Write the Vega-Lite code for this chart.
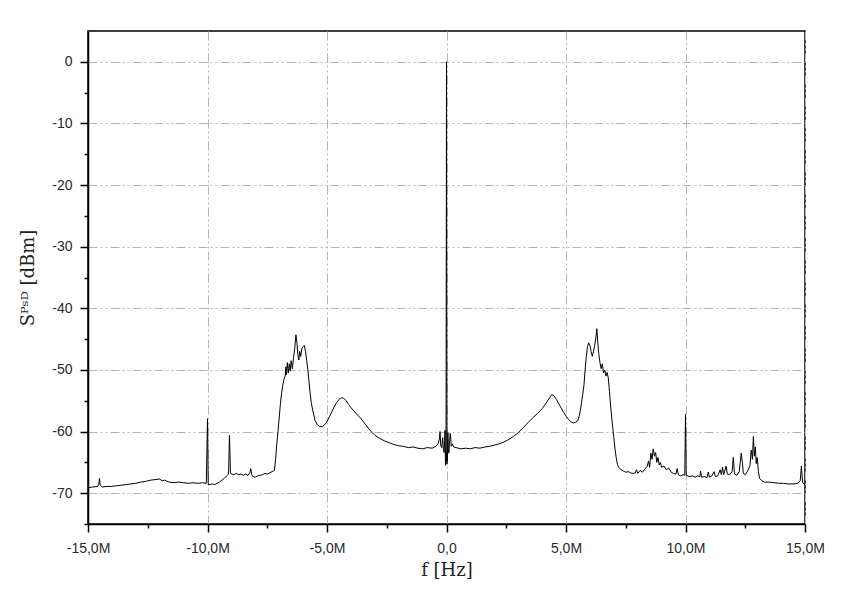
{
  "$schema": "https://vega.github.io/schema/vega-lite/v6.json",
  "width": 717,
  "height": 493,
  "autosize": {"type": "none"},
  "padding": {"left": 88, "top": 31, "right": 38, "bottom": 87},
  "background": "white",
  "config": {
    "view": {"stroke": "black", "strokeWidth": 1.5},
    "axis": {
      "domainColor": "black",
      "domainWidth": 1.5,
      "tickColor": "black",
      "tickWidth": 1.5,
      "labelFont": "Liberation Sans",
      "labelFontSize": 14,
      "labelColor": "#2a2a2a",
      "titleFont": "DejaVu Serif",
      "titleFontSize": 18,
      "titleFontWeight": "normal",
      "titleColor": "#222222",
      "gridColor": "#b4b4b4",
      "gridWidth": 1,
      "gridDash": [9, 3, 2, 3, 2, 3]
    }
  },
  "data": {
    "values": [
      {"f": -15.0, "v": -69.1}, {"f": -14.8, "v": -69.0}, {"f": -14.6, "v": -68.9}, {"f": -14.55, "v": -68.6},
      {"f": -14.52, "v": -67.6}, {"f": -14.49, "v": -68.7}, {"f": -14.4, "v": -69.0}, {"f": -14.2, "v": -68.9},
      {"f": -14.0, "v": -68.9}, {"f": -13.8, "v": -68.8}, {"f": -13.6, "v": -68.7}, {"f": -13.4, "v": -68.6},
      {"f": -13.2, "v": -68.5}, {"f": -13.0, "v": -68.4}, {"f": -12.8, "v": -68.2}, {"f": -12.6, "v": -68.1},
      {"f": -12.4, "v": -67.9}, {"f": -12.2, "v": -67.8}, {"f": -12.0, "v": -67.7}, {"f": -11.9, "v": -68.0},
      {"f": -11.8, "v": -67.9}, {"f": -11.6, "v": -68.2}, {"f": -11.4, "v": -68.3}, {"f": -11.2, "v": -68.2},
      {"f": -11.0, "v": -68.3}, {"f": -10.8, "v": -68.4}, {"f": -10.6, "v": -68.3}, {"f": -10.4, "v": -68.4},
      {"f": -10.2, "v": -68.3}, {"f": -10.05, "v": -68.4}, {"f": -10.0, "v": -57.9}, {"f": -9.97, "v": -68.6},
      {"f": -9.9, "v": -68.6}, {"f": -9.8, "v": -68.5}, {"f": -9.7, "v": -68.6}, {"f": -9.6, "v": -68.4},
      {"f": -9.5, "v": -68.2}, {"f": -9.4, "v": -67.9}, {"f": -9.3, "v": -67.6}, {"f": -9.2, "v": -67.2},
      {"f": -9.12, "v": -66.9}, {"f": -9.08, "v": -60.6}, {"f": -9.04, "v": -66.7}, {"f": -9.0, "v": -66.9},
      {"f": -8.9, "v": -67.0}, {"f": -8.8, "v": -66.8}, {"f": -8.7, "v": -67.0}, {"f": -8.6, "v": -66.9},
      {"f": -8.5, "v": -67.1}, {"f": -8.4, "v": -66.9}, {"f": -8.3, "v": -67.1}, {"f": -8.22, "v": -66.6},
      {"f": -8.19, "v": -66.0}, {"f": -8.15, "v": -67.0}, {"f": -8.1, "v": -67.3}, {"f": -8.0, "v": -67.4},
      {"f": -7.9, "v": -67.2}, {"f": -7.8, "v": -67.1}, {"f": -7.7, "v": -67.0}, {"f": -7.6, "v": -66.8},
      {"f": -7.5, "v": -66.9}, {"f": -7.4, "v": -66.7}, {"f": -7.3, "v": -66.5}, {"f": -7.2, "v": -66.3},
      {"f": -7.15, "v": -64.5}, {"f": -7.1, "v": -62.0}, {"f": -7.05, "v": -60.0}, {"f": -7.0, "v": -57.8},
      {"f": -6.95, "v": -55.5}, {"f": -6.9, "v": -53.8}, {"f": -6.85, "v": -52.5}, {"f": -6.8, "v": -51.5},
      {"f": -6.75, "v": -51.0}, {"f": -6.72, "v": -49.5}, {"f": -6.7, "v": -50.8}, {"f": -6.66, "v": -48.8},
      {"f": -6.62, "v": -50.5}, {"f": -6.58, "v": -49.0}, {"f": -6.54, "v": -50.2}, {"f": -6.5, "v": -48.5},
      {"f": -6.45, "v": -49.8}, {"f": -6.4, "v": -48.0}, {"f": -6.35, "v": -46.5}, {"f": -6.3, "v": -44.3},
      {"f": -6.26, "v": -45.5}, {"f": -6.22, "v": -47.5}, {"f": -6.18, "v": -48.4}, {"f": -6.14, "v": -47.0},
      {"f": -6.1, "v": -47.8}, {"f": -6.05, "v": -46.5}, {"f": -6.0, "v": -46.2}, {"f": -5.95, "v": -46.0},
      {"f": -5.9, "v": -47.0}, {"f": -5.85, "v": -48.5}, {"f": -5.8, "v": -50.0}, {"f": -5.75, "v": -52.0},
      {"f": -5.7, "v": -54.0}, {"f": -5.65, "v": -55.5}, {"f": -5.6, "v": -56.5}, {"f": -5.5, "v": -58.2},
      {"f": -5.4, "v": -58.9}, {"f": -5.3, "v": -59.2}, {"f": -5.2, "v": -59.2}, {"f": -5.1, "v": -58.9},
      {"f": -5.0, "v": -58.4}, {"f": -4.9, "v": -57.6}, {"f": -4.8, "v": -56.8}, {"f": -4.7, "v": -56.0},
      {"f": -4.6, "v": -55.3}, {"f": -4.5, "v": -54.8}, {"f": -4.4, "v": -54.5}, {"f": -4.3, "v": -54.6},
      {"f": -4.2, "v": -55.0}, {"f": -4.1, "v": -55.6}, {"f": -4.0, "v": -56.1}, {"f": -3.8, "v": -57.0},
      {"f": -3.6, "v": -57.8}, {"f": -3.4, "v": -58.8}, {"f": -3.2, "v": -59.8}, {"f": -3.0, "v": -60.6},
      {"f": -2.8, "v": -61.1}, {"f": -2.6, "v": -61.5}, {"f": -2.4, "v": -61.8}, {"f": -2.2, "v": -62.1},
      {"f": -2.0, "v": -62.3}, {"f": -1.8, "v": -62.4}, {"f": -1.6, "v": -62.6}, {"f": -1.4, "v": -62.5},
      {"f": -1.2, "v": -62.7}, {"f": -1.0, "v": -62.8}, {"f": -0.8, "v": -62.6}, {"f": -0.6, "v": -62.7},
      {"f": -0.45, "v": -62.4}, {"f": -0.35, "v": -62.0}, {"f": -0.3, "v": -61.2}, {"f": -0.27, "v": -60.0},
      {"f": -0.24, "v": -62.3}, {"f": -0.2, "v": -62.6}, {"f": -0.16, "v": -61.0}, {"f": -0.13, "v": -62.8},
      {"f": -0.1, "v": -63.4}, {"f": -0.08, "v": -61.5}, {"f": -0.06, "v": -59.8}, {"f": -0.05, "v": -64.0},
      {"f": -0.04, "v": -65.5}, {"f": -0.03, "v": -63.0}, {"f": -0.02, "v": -64.8}, {"f": -0.01, "v": -35.0},
      {"f": 0.0, "v": 0.0}, {"f": 0.01, "v": -35.0}, {"f": 0.02, "v": -65.3}, {"f": 0.03, "v": -63.5},
      {"f": 0.04, "v": -64.8}, {"f": 0.05, "v": -61.0}, {"f": 0.06, "v": -60.2}, {"f": 0.08, "v": -62.8},
      {"f": 0.1, "v": -63.5}, {"f": 0.13, "v": -61.5}, {"f": 0.16, "v": -60.3}, {"f": 0.2, "v": -62.4},
      {"f": 0.25, "v": -62.0}, {"f": 0.3, "v": -62.5}, {"f": 0.4, "v": -62.6}, {"f": 0.6, "v": -62.8},
      {"f": 0.8, "v": -62.7}, {"f": 1.0, "v": -62.8}, {"f": 1.2, "v": -62.6}, {"f": 1.4, "v": -62.7},
      {"f": 1.6, "v": -62.5}, {"f": 1.8, "v": -62.4}, {"f": 2.0, "v": -62.2}, {"f": 2.2, "v": -62.0},
      {"f": 2.4, "v": -61.7}, {"f": 2.6, "v": -61.3}, {"f": 2.8, "v": -60.8}, {"f": 3.0, "v": -60.2},
      {"f": 3.2, "v": -59.4}, {"f": 3.4, "v": -58.6}, {"f": 3.6, "v": -57.8}, {"f": 3.8, "v": -57.1},
      {"f": 4.0, "v": -56.3}, {"f": 4.2, "v": -55.2}, {"f": 4.4, "v": -54.0}, {"f": 4.5, "v": -54.2},
      {"f": 4.6, "v": -54.8}, {"f": 4.7, "v": -55.5}, {"f": 4.8, "v": -56.2}, {"f": 4.9, "v": -56.9},
      {"f": 5.0, "v": -57.5}, {"f": 5.1, "v": -58.0}, {"f": 5.2, "v": -58.4}, {"f": 5.3, "v": -58.6},
      {"f": 5.4, "v": -58.5}, {"f": 5.5, "v": -58.2}, {"f": 5.55, "v": -57.5}, {"f": 5.6, "v": -56.6},
      {"f": 5.65, "v": -55.3}, {"f": 5.7, "v": -54.0}, {"f": 5.75, "v": -52.5}, {"f": 5.8, "v": -50.0},
      {"f": 5.85, "v": -47.8}, {"f": 5.9, "v": -46.2}, {"f": 5.95, "v": -45.6}, {"f": 6.0, "v": -46.0},
      {"f": 6.05, "v": -47.0}, {"f": 6.1, "v": -47.8}, {"f": 6.15, "v": -47.0}, {"f": 6.2, "v": -46.0},
      {"f": 6.25, "v": -44.8}, {"f": 6.29, "v": -43.3}, {"f": 6.33, "v": -45.5}, {"f": 6.37, "v": -47.3},
      {"f": 6.42, "v": -48.8}, {"f": 6.47, "v": -49.8}, {"f": 6.52, "v": -49.0}, {"f": 6.57, "v": -50.5},
      {"f": 6.62, "v": -50.0}, {"f": 6.67, "v": -51.0}, {"f": 6.72, "v": -50.4}, {"f": 6.77, "v": -51.3},
      {"f": 6.82, "v": -53.5}, {"f": 6.87, "v": -56.0}, {"f": 6.92, "v": -58.0}, {"f": 6.96, "v": -59.5},
      {"f": 7.0, "v": -61.0}, {"f": 7.05, "v": -62.8}, {"f": 7.1, "v": -64.2}, {"f": 7.15, "v": -65.3},
      {"f": 7.2, "v": -65.8}, {"f": 7.3, "v": -66.2}, {"f": 7.4, "v": -66.4}, {"f": 7.5, "v": -66.6},
      {"f": 7.6, "v": -66.5}, {"f": 7.7, "v": -66.7}, {"f": 7.8, "v": -66.8}, {"f": 7.9, "v": -66.7},
      {"f": 7.95, "v": -66.2}, {"f": 8.0, "v": -66.8}, {"f": 8.1, "v": -66.3}, {"f": 8.2, "v": -66.6},
      {"f": 8.3, "v": -66.1}, {"f": 8.4, "v": -65.6}, {"f": 8.45, "v": -64.8}, {"f": 8.5, "v": -65.8},
      {"f": 8.55, "v": -63.5}, {"f": 8.6, "v": -64.5}, {"f": 8.65, "v": -62.8}, {"f": 8.7, "v": -64.0},
      {"f": 8.75, "v": -63.4}, {"f": 8.8, "v": -65.0}, {"f": 8.85, "v": -64.2}, {"f": 8.9, "v": -65.4},
      {"f": 8.95, "v": -65.0}, {"f": 9.0, "v": -65.8}, {"f": 9.1, "v": -65.6}, {"f": 9.2, "v": -66.2},
      {"f": 9.3, "v": -65.9}, {"f": 9.4, "v": -66.6}, {"f": 9.5, "v": -66.8}, {"f": 9.6, "v": -66.9},
      {"f": 9.65, "v": -66.0}, {"f": 9.7, "v": -67.0}, {"f": 9.8, "v": -67.2}, {"f": 9.9, "v": -67.0},
      {"f": 9.97, "v": -67.1}, {"f": 10.0, "v": -57.2}, {"f": 10.03, "v": -67.1}, {"f": 10.15, "v": -67.3},
      {"f": 10.3, "v": -67.2}, {"f": 10.4, "v": -67.4}, {"f": 10.5, "v": -67.2}, {"f": 10.6, "v": -67.3},
      {"f": 10.63, "v": -66.4}, {"f": 10.67, "v": -67.4}, {"f": 10.8, "v": -67.3}, {"f": 10.9, "v": -67.5},
      {"f": 10.95, "v": -66.6}, {"f": 11.0, "v": -67.4}, {"f": 11.1, "v": -67.2}, {"f": 11.2, "v": -66.5},
      {"f": 11.25, "v": -67.3}, {"f": 11.35, "v": -67.2}, {"f": 11.45, "v": -66.2}, {"f": 11.5, "v": -67.0},
      {"f": 11.55, "v": -65.8}, {"f": 11.6, "v": -67.0}, {"f": 11.7, "v": -65.6}, {"f": 11.75, "v": -66.9},
      {"f": 11.85, "v": -67.0}, {"f": 11.95, "v": -66.5}, {"f": 12.0, "v": -64.2}, {"f": 12.05, "v": -66.9},
      {"f": 12.15, "v": -67.1}, {"f": 12.25, "v": -66.5}, {"f": 12.33, "v": -63.5}, {"f": 12.38, "v": -65.0},
      {"f": 12.42, "v": -66.8}, {"f": 12.5, "v": -67.0}, {"f": 12.6, "v": -66.4}, {"f": 12.7, "v": -65.5},
      {"f": 12.75, "v": -63.0}, {"f": 12.8, "v": -64.5}, {"f": 12.84, "v": -60.8}, {"f": 12.88, "v": -64.0},
      {"f": 12.92, "v": -62.5}, {"f": 12.96, "v": -65.2}, {"f": 13.0, "v": -64.2}, {"f": 13.05, "v": -66.5},
      {"f": 13.1, "v": -67.6}, {"f": 13.2, "v": -68.0}, {"f": 13.3, "v": -68.2}, {"f": 13.5, "v": -68.2},
      {"f": 13.7, "v": -68.3}, {"f": 13.9, "v": -68.4}, {"f": 14.1, "v": -68.4}, {"f": 14.3, "v": -68.5},
      {"f": 14.5, "v": -68.5}, {"f": 14.7, "v": -68.4}, {"f": 14.8, "v": -68.0}, {"f": 14.85, "v": -65.6},
      {"f": 14.9, "v": -68.3}, {"f": 15.0, "v": -68.6}
    ]
  },
  "layer": [
    {
      "mark": {"type": "line", "color": "black", "strokeWidth": 1, "clip": true, "interpolate": "linear"},
      "encoding": {
        "x": {
          "field": "f", "type": "quantitative",
          "scale": {"domain": [-15, 15], "nice": false, "zero": false},
          "axis": {
            "orient": "bottom",
            "values": [-15, -10, -5, 0, 5, 10, 15],
            "labelExpr": "datum.value == 0 ? '0,0' : (datum.value < 0 ? '-' : '') + replace(format(abs(datum.value), '.1f'), '.', ',') + 'M'",
            "tickSize": 8,
            "labelPadding": 9,
            "labelFlush": false,
            "labelOverlap": false,
            "title": "f [Hz]",
            "titlePadding": 6,
            "grid": true
          }
        },
        "y": {
          "field": "v", "type": "quantitative",
          "scale": {"domain": [-75, 5], "nice": false, "zero": false},
          "axis": {
            "orient": "left",
            "values": [0, -10, -20, -30, -40, -50, -60, -70],
            "labelExpr": "datum.value < 0 ? '-' + format(abs(datum.value), 'd') : format(datum.value, 'd')",
            "tickSize": 8,
            "labelPadding": 8,
            "labelFlush": false,
            "labelOverlap": false,
            "title": "Sᴾˢᴰ [dBm]",
            "titlePadding": 14,
            "grid": true
          }
        }
      }
    },
    {
      "mark": {"type": "line", "opacity": 0},
      "encoding": {
        "x": {
          "field": "f", "type": "quantitative",
          "axis": {
            "orient": "bottom",
            "values": [-12.5, -7.5, -2.5, 2.5, 7.5, 12.5],
            "labels": false, "domain": false, "grid": false,
            "tickSize": 4, "title": null
          }
        },
        "y": {
          "field": "v", "type": "quantitative",
          "axis": {
            "orient": "left",
            "values": [-5, -15, -25, -35, -45, -55, -65, -75],
            "labels": false, "domain": false, "grid": false,
            "tickSize": 4, "title": null
          }
        }
      }
    }
  ],
  "resolve": {"axis": {"x": "independent", "y": "independent"}}
}
